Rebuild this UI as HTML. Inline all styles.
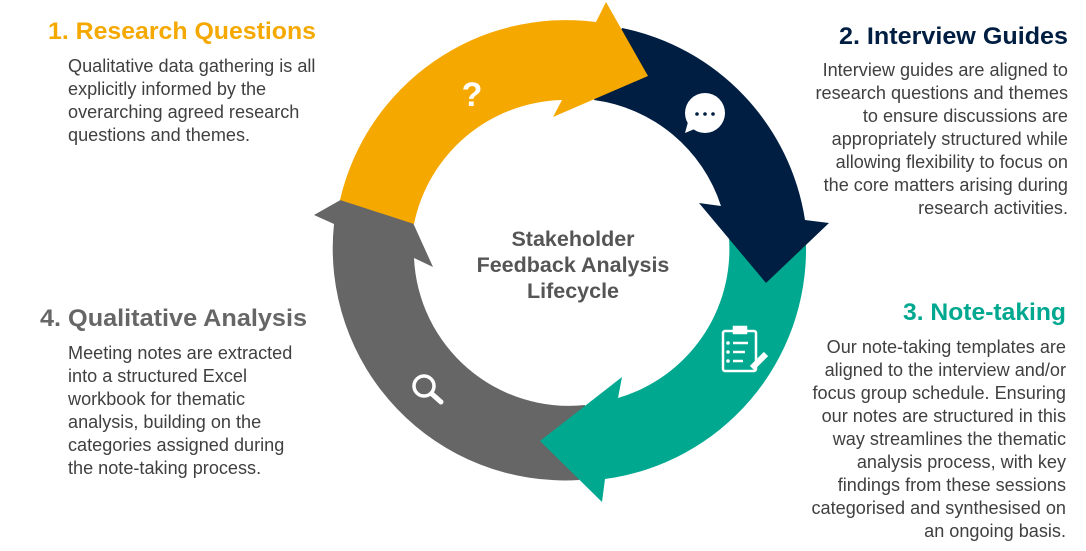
<!DOCTYPE html>
<html><head><meta charset="utf-8"><style>
html,body{margin:0;padding:0;background:#fff;}
svg{display:block;font-family:"Liberation Sans",Arial,sans-serif;}
.b{font-size:18.1px;fill:#404040;}
.t{font-size:24px;font-weight:bold;}
.c{font-size:21.5px;font-weight:bold;fill:#555;}
</style></head><body>
<svg width="1086" height="551" viewBox="0 0 1086 551" xmlns="http://www.w3.org/2000/svg">
<path d="M579,480 A232,232 0 0 1 334,224 L314,215 L390,172 L433,267 L414,258 A155,155 0 0 0 585,405 Z" fill="#666666"/>
<path d="M806,244 A232,232 0 0 1 605,479 L602,502 L540,441 L622,377 L618,398 A155,155 0 0 0 729,238 Z" fill="#00A88F"/>
<path d="M622,28 A232,232 0 0 1 805,220 L829,223 L766,283 L699,203 L721,206 A155,155 0 0 0 594,100 Z" fill="#001E41"/>
<path d="M340,200 A232,232 0 0 1 596,22 L606,2 L648,76 L553,117 L562,100 A155,155 0 0 0 414,224 Z" fill="#F5A800"/>

<text x="472" y="106" text-anchor="middle" font-size="34" font-weight="bold" fill="#fff">?</text>
<circle cx="705" cy="113" r="20" fill="#fff"/>
<path d="M688,122 L685,133 L697,128 Z" fill="#fff"/>
<circle cx="697" cy="114" r="1.8" fill="#001E41"/><circle cx="705" cy="114" r="1.8" fill="#001E41"/><circle cx="713" cy="114" r="1.8" fill="#001E41"/>
<g stroke="#fff" fill="none" stroke-width="2.5">
<rect x="723" y="331" width="33" height="40" rx="2"/>
<rect x="734" y="327" width="12" height="6" fill="#fff"/>
<line x1="733" y1="343" x2="748" y2="343"/><line x1="733" y1="352" x2="745" y2="352"/><line x1="733" y1="361" x2="743" y2="361"/>
<line x1="752" y1="368" x2="766" y2="354" stroke-width="6"/>
</g>
<circle cx="728" cy="343" r="1.8" fill="#fff"/><circle cx="728" cy="352" r="1.8" fill="#fff"/><circle cx="728" cy="361" r="1.8" fill="#fff"/>
<circle cx="424" cy="386" r="10" fill="none" stroke="#fff" stroke-width="3.5"/>
<line x1="432" y1="394" x2="441" y2="402" stroke="#fff" stroke-width="5" stroke-linecap="round"/>

<text class="c" x="573" y="246" text-anchor="middle">Stakeholder</text>
<text class="c" x="573" y="272" text-anchor="middle">Feedback Analysis</text>
<text class="c" x="573" y="298" text-anchor="middle">Lifecycle</text>

<text class="t" x="48" y="39" fill="#F5A800" textLength="268" lengthAdjust="spacingAndGlyphs">1. Research Questions</text>
<text class="b" x="68" y="72">Qualitative data gathering is all</text>
<text class="b" x="68" y="95">explicitly informed by the</text>
<text class="b" x="68" y="118">overarching agreed research</text>
<text class="b" x="68" y="141">questions and themes.</text>

<text class="t" x="1068" y="44" fill="#001E41" text-anchor="end" textLength="229" lengthAdjust="spacingAndGlyphs">2. Interview Guides</text>
<g class="b" text-anchor="end">
<text x="1068" y="76">Interview guides are aligned to</text>
<text x="1068" y="99">research questions and themes</text>
<text x="1068" y="122">to ensure discussions are</text>
<text x="1068" y="145">appropriately structured while</text>
<text x="1068" y="168">allowing flexibility to focus on</text>
<text x="1068" y="191">the core matters arising during</text>
<text x="1068" y="214">research activities.</text>
</g>

<text class="t" x="1066" y="320" fill="#00A88F" text-anchor="end" textLength="163" lengthAdjust="spacingAndGlyphs">3. Note-taking</text>
<g class="b" text-anchor="end">
<text x="1066" y="353">Our note-taking templates are</text>
<text x="1066" y="376">aligned to the interview and/or</text>
<text x="1066" y="399">focus group schedule. Ensuring</text>
<text x="1066" y="422">our notes are structured in this</text>
<text x="1066" y="445">way streamlines the thematic</text>
<text x="1066" y="468">analysis process, with key</text>
<text x="1066" y="491">findings from these sessions</text>
<text x="1066" y="514">categorised and synthesised on</text>
<text x="1066" y="537">an ongoing basis.</text>
</g>

<text class="t" x="40" y="326" fill="#666" textLength="267" lengthAdjust="spacingAndGlyphs">4. Qualitative Analysis</text>
<text class="b" x="68" y="359">Meeting notes are extracted</text>
<text class="b" x="68" y="382">into a structured Excel</text>
<text class="b" x="68" y="405">workbook for thematic</text>
<text class="b" x="68" y="428">analysis, building on the</text>
<text class="b" x="68" y="451">categories assigned during</text>
<text class="b" x="68" y="474">the note-taking process.</text>
</svg>
</body></html>
